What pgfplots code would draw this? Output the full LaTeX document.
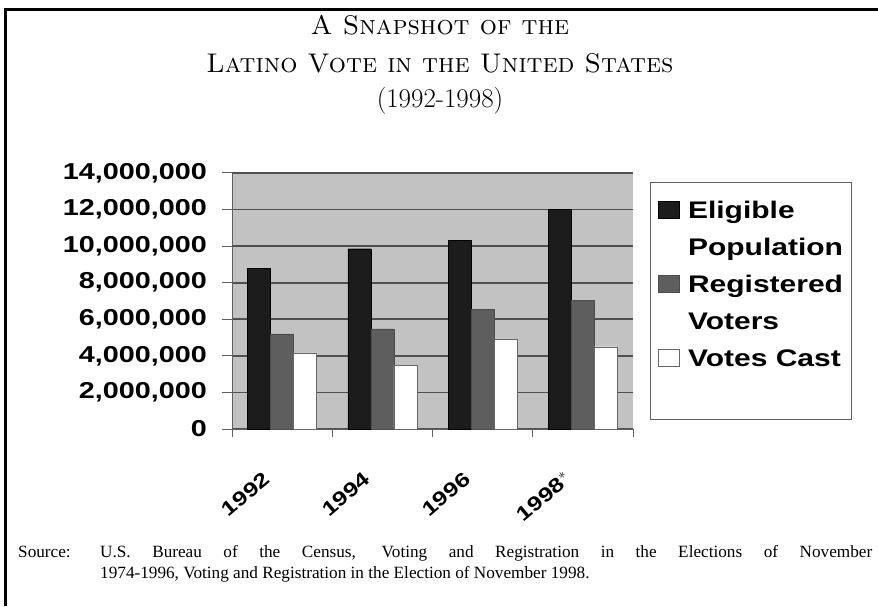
\documentclass[border=0pt]{standalone}
\usepackage{pgfplots}
\pgfplotsset{compat=1.18}
\usepackage{fontspec}
\newfontfamily\cf{Liberation Sans Bold}[FakeStretch=1.25]
\newfontfamily\srcfont{Liberation Serif}
\definecolor{bgray}{HTML}{C2C2C2}
\definecolor{gridc}{HTML}{505050}
\definecolor{barblack}{HTML}{1C1C1C}
\definecolor{bardark}{HTML}{5E5E5E}
\definecolor{axisc}{HTML}{606060}
\begin{document}
\begin{tikzpicture}[x=1pt,y=1pt]
\path[use as bounding box] (0,0) rectangle (878,606);
% frame
\draw[line width=3pt, black] (5.5,0) -- (5.5,596.5) -- (878,596.5);
% title
\node[anchor=base, font=\fontsize{27}{30}\selectfont\scshape] at (440,571) {A Snapshot of the};
\node[anchor=base, font=\fontsize{27}{30}\selectfont\scshape] at (440,533) {Latino Vote in the United States};
\node[anchor=base, font=\fontsize{27}{30}\selectfont] at (440,498) {(1992-1998)};
% source
\node[anchor=base west, inner sep=0pt, font=\srcfont\fontsize{17.2}{20}\selectfont] at (18,49)
  {\makebox[854pt][s]{\makebox[82pt][l]{Source:}U.S. Bureau of the Census, Voting and Registration in the Elections of November}};
\node[anchor=base west, inner sep=0pt, font=\srcfont\fontsize{17.2}{20}\selectfont] at (18,28)
  {\hspace*{82pt}1974-1996, Voting and Registration in the Election of November 1998.};

\begin{axis}[
  at={(232pt,177pt)}, anchor=south west,
  scale only axis, width=401pt, height=256pt,
  xmin=-0.5, xmax=3.5, ymin=0, ymax=14000000,
  axis background/.style={fill=bgray},
  axis x line=bottom, axis y line=left,
  axis line style={-, draw=axisc, line width=1pt},
  ybar=0pt, bar width=23pt,
  xtick={0,1,2,3},
  xticklabels={1992,1994,1996,{1998$^{*}$}},
  minor xtick={-0.5,0.5,1.5,2.5,3.5},
  tick align=outside,
  major x tick style={draw=none},
  minor tick length=8pt,
  major tick length=10pt,
  tick style={draw=axisc, line width=1pt},
  ytick={0,2000000,4000000,6000000,8000000,10000000,12000000,14000000},
  yticklabels={0,{2,000,000},{4,000,000},{6,000,000},{8,000,000},{10,000,000},{12,000,000},{14,000,000}},
  scaled y ticks=false,
  y tick label style={font=\cf\fontsize{23}{23}\selectfont, anchor=east, inner sep=0pt, xshift=-15pt},
  x tick label style={font=\cf\fontsize{20}{20}\selectfont, xshift=-15pt, yshift=-37pt, rotate=40, anchor=east, inner sep=0pt},
  ymajorgrids,
  major grid style={draw=gridc, line width=1.6pt},
  legend style={at={(axis description cs:1.0424,0.9648)}, anchor=north west,
    draw=axisc, line width=0.8pt, fill=white,
    inner xsep=8pt, inner ysep=8pt, row sep=7pt,
    font=\cf\fontsize{24}{24}\selectfont,
    nodes={inner sep=0pt, text height=28pt, text depth=2pt, anchor=base west},
    /tikz/every odd column/.append style={column sep=8pt}},
  legend cell align=left,
  legend image code/.code={\draw[#1, line width=0.6pt] (0pt,0pt) rectangle (21pt,17pt);},
]
\addplot[fill=barblack, draw=black] coordinates {(0,8800000) (1,9860000) (2,10300000) (3,12010000)};
\addlegendentry{Eligible}
\addlegendimage{empty legend}
\addlegendentry{Population}
\addplot[fill=bardark, draw=black!70] coordinates {(0,5200000) (1,5470000) (2,6560000) (3,7020000)};
\addlegendentry{Registered}
\addlegendimage{empty legend}
\addlegendentry{Voters}
\addplot[fill=white, draw=black!60] coordinates {(0,4160000) (1,3500000) (2,4920000) (3,4500000)};
\addlegendentry{Votes Cast}
\addlegendimage{empty legend}
\addlegendentry[text depth=8pt]{}
\end{axis}
\end{tikzpicture}
\end{document}
